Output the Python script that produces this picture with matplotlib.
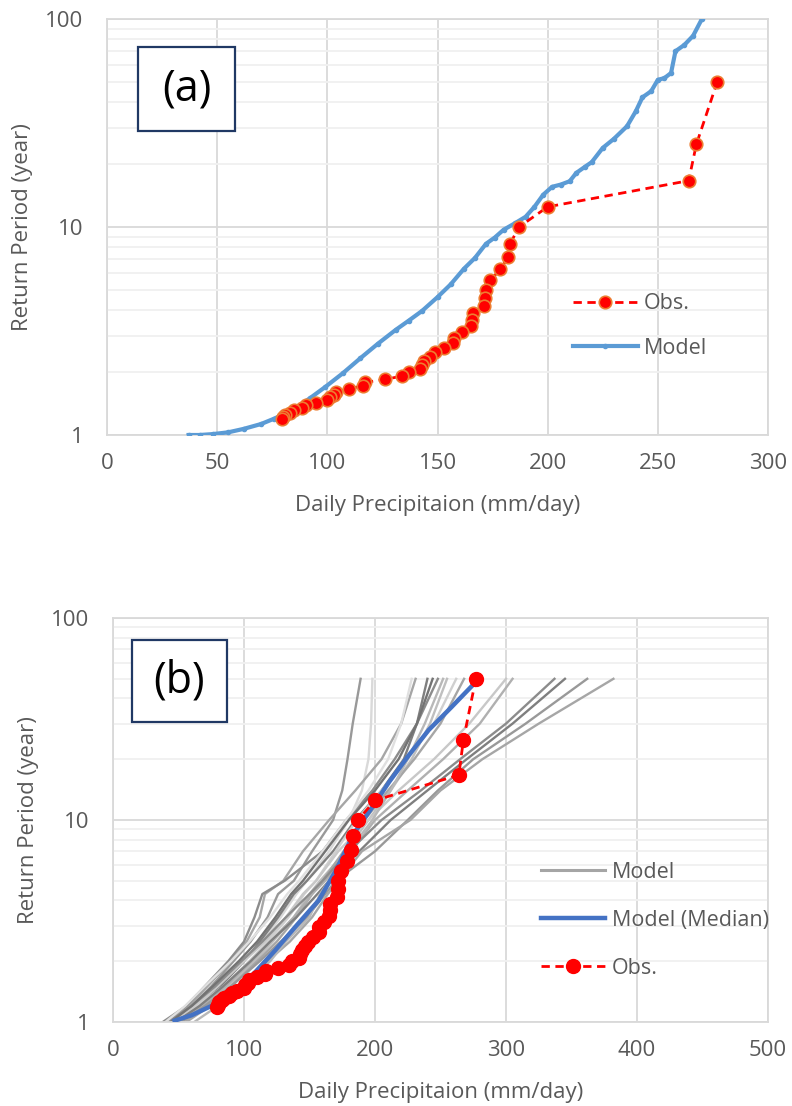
import matplotlib
matplotlib.use('Agg')
import matplotlib.pyplot as plt
from matplotlib.patches import Rectangle
from matplotlib.ticker import FixedLocator, LogLocator, NullFormatter

plt.rcParams['font.family'] = ['Open Sans', 'DejaVu Sans']

# ---- panel (a) data ----
model_a_x = [37, 42, 48, 55, 62, 70, 76, 85, 92, 99, 107, 115, 123, 131, 137, 143, 150,
             156, 162, 167, 172, 176, 180, 185, 190, 194, 198, 202, 206, 210, 213, 217,
             220, 225, 230, 236, 240, 243, 247, 250, 253, 256, 258, 262, 266, 270]
model_a_y = [1.0, 1.0, 1.01, 1.03, 1.07, 1.13, 1.2, 1.33, 1.5, 1.7, 1.98, 2.34, 2.75, 3.2,
             3.55, 3.95, 4.6, 5.3, 6.3, 7.1, 8.3, 8.9, 9.7, 10.4, 11.2, 12.5, 14.3, 15.6,
             16.0, 16.6, 18.2, 19.5, 20.5, 24, 26.5, 30.5, 36, 42, 45, 51, 52, 55, 70, 75,
             83, 100]

obs_x = [277, 267.5, 264, 200, 187, 183, 182, 178.5, 174, 172, 171.5, 171, 166, 165.5,
         165, 161, 157.5, 157, 153, 149, 146.5, 144, 143, 142, 137, 134, 126, 117, 116,
         110, 104, 103, 101, 100, 95, 90.5, 88.5, 85, 83, 81, 80, 79.5]
obs_y = [50, 25, 16.7, 12.5, 10, 8.33, 7.14, 6.25, 5.56, 5.0, 4.55, 4.17, 3.85, 3.57,
         3.33, 3.13, 2.94, 2.78, 2.63, 2.5, 2.38, 2.27, 2.17, 2.08, 2.0, 1.92, 1.85, 1.79,
         1.72, 1.67, 1.61, 1.56, 1.52, 1.47, 1.43, 1.39, 1.35, 1.32, 1.28, 1.25, 1.22, 1.19]

# ---- panel (b) data ----
members_T = [1.0, 1.2, 1.5, 2.0, 2.5, 3.3, 4.3, 5.0, 7.0, 10, 14, 20, 30, 50]
members_x = [
    [42, 60, 75, 92, 105, 118, 126, 138, 152, 168, 175, 179, 183, 189],
    [48, 64, 80, 100, 114, 128, 140, 148, 165, 180, 190, 195, 197, 198],
    [40, 58, 72, 90, 102, 112, 116, 130, 145, 165, 185, 205, 220, 231],
    [50, 66, 82, 100, 112, 126, 138, 148, 168, 185, 205, 222, 232, 240],
    [38, 56, 70, 88, 100, 108, 114, 131, 160, 178, 198, 215, 232, 248],
    [52, 70, 88, 108, 122, 138, 150, 158, 178, 195, 212, 228, 242, 255],
    [46, 64, 84, 104, 118, 134, 146, 155, 170, 186, 205, 225, 245, 262],
    [55, 72, 90, 110, 125, 140, 152, 160, 176, 192, 210, 230, 250, 268],
    [44, 62, 80, 100, 116, 132, 145, 155, 172, 195, 218, 245, 272, 300],
    [50, 68, 86, 106, 120, 138, 152, 162, 182, 200, 225, 252, 280, 305],
    [42, 60, 78, 98, 114, 132, 150, 160, 180, 205, 235, 265, 300, 337],
    [48, 66, 84, 105, 120, 140, 156, 165, 188, 212, 240, 270, 305, 345],
    [52, 70, 90, 112, 128, 148, 162, 170, 200, 225, 248, 275, 315, 362],
    [56, 74, 95, 118, 135, 152, 164, 172, 190, 227, 250, 282, 325, 382],
    [40, 55, 70, 90, 104, 120, 133, 142, 160, 178, 195, 210, 220, 228],
    [62, 80, 98, 120, 132, 150, 158, 165, 180, 198, 212, 225, 238, 252],
    [44, 60, 76, 96, 110, 124, 136, 145, 162, 180, 200, 218, 232, 244],
]
member_colors = ['#999999', '#d9d9d9', '#a6a6a6', '#7f7f7f', '#8c8c8c', '#bfbfbf',
                 '#d0d0d0', '#a6a6a6', '#c8c8c8', '#b0b0b0', '#8c8c8c', '#7f7f7f',
                 '#999999', '#a6a6a6', '#e0e0e0', '#b8b8b8', '#737373']

median_x = [47, 60, 75, 90.5, 108, 124, 140, 157, 170, 184, 198, 211, 226, 241, 258, 274.7]
median_y = [1.015, 1.08, 1.2, 1.39, 1.75, 2.27, 3.0, 4.0, 5.6, 8.6, 11.6, 15.5, 21, 27.9, 36, 46.6]

TXT = '#595959'
GRID = '#d9d9d9'
MINOR = '#f0f0f0'
FS = 16
LEG_FS = 15.5


def style_axes(ax, xmax):
    ax.set_yscale('log')
    ax.set_xlim(0, xmax)
    ax.set_ylim(1, 100)
    ax.yaxis.set_major_locator(FixedLocator([1, 10, 100]))
    ax.set_yticklabels(['1', '10', '100'])
    ax.yaxis.set_minor_locator(LogLocator(base=10, subs=range(2, 10)))
    ax.yaxis.set_minor_formatter(NullFormatter())
    ax.grid(True, which='major', color=GRID, lw=1.3)
    ax.grid(True, which='minor', axis='y', color=MINOR, lw=1.3)
    ax.set_axisbelow(True)
    for s in ax.spines.values():
        s.set_color(GRID)
        s.set_linewidth(1.3)
    ax.tick_params(which='both', length=0, labelsize=FS, labelcolor=TXT)
    ax.tick_params(axis='x', pad=13)
    ax.tick_params(axis='y', pad=17)
    ax.set_xlabel('Daily Precipitaion (mm/day)', fontsize=FS, color=TXT, labelpad=15)
    ax.set_ylabel('Return Period (year)', fontsize=FS, color=TXT, labelpad=9)


def tag(ax, x0, y0, w, h, label):
    ax.add_patch(Rectangle((x0, y0), w, h, transform=ax.transAxes, fill=True,
                           facecolor='white', edgecolor='#203864', lw=1.6, zorder=6))
    ax.text(x0 + w / 2, y0 + h / 2, label, transform=ax.transAxes, ha='center',
            va='center', fontsize=31, color='black', zorder=7)


fig = plt.figure(figsize=(7.92, 11.06), dpi=100)

# ---- (a) ----
ax1 = fig.add_axes([107 / 792, 1 - 435 / 1106, 661 / 792, 416 / 1106])
style_axes(ax1, 300)
ax1.set_xticks([0, 50, 100, 150, 200, 250, 300])
ax1.plot(model_a_x, model_a_y, color='#5b9bd5', lw=3, marker='o', ms=3,
         label='Model', zorder=3)
ax1.plot(obs_x, obs_y, color='#ff0000', lw=2, ls=(0, (3, 2)), marker='o', ms=9,
         mfc='#ff0000', mec='#ed7d31', mew=1.2, label='Obs.', zorder=4)
h, l = ax1.get_legend_handles_labels()
ax1.legend(h[::-1], l[::-1], loc='center left', bbox_to_anchor=(0.705, 0.262),
           frameon=False, fontsize=LEG_FS, labelcolor=TXT, handlelength=3.0,
           handletextpad=0.3, labelspacing=1.1, borderpad=0, borderaxespad=0)
tag(ax1, 0.0469, 0.731, 0.1467, 0.202, '(a)')

# ---- (b) ----
ax2 = fig.add_axes([113 / 792, 1 - 1022 / 1106, 655 / 792, 404 / 1106])
style_axes(ax2, 500)
ax2.set_xticks([0, 100, 200, 300, 400, 500])
for xs, c in zip(members_x, member_colors):
    ax2.plot(xs, members_T, color=c, lw=1.7, zorder=2)
ax2.plot([], [], color='#a5a5a5', lw=2.2, label='Model')
ax2.plot(median_x, median_y, color='#4472c4', lw=3.2, label='Model (Median)', zorder=3)
ax2.plot(obs_x, obs_y, color='#ff0000', lw=2, ls=(0, (3, 2)), marker='o', ms=10,
         mfc='#ff0000', mec='#ff0000', label='Obs.', zorder=4)
ax2.legend(loc='center left', bbox_to_anchor=(0.653, 0.252),
           frameon=False, fontsize=LEG_FS, labelcolor=TXT, handlelength=3.0,
           handletextpad=0.3, labelspacing=1.25, borderpad=0, borderaxespad=0)
tag(ax2, 0.029, 0.743, 0.145, 0.2025, '(b)')

fig.savefig('out.png', dpi=100)
